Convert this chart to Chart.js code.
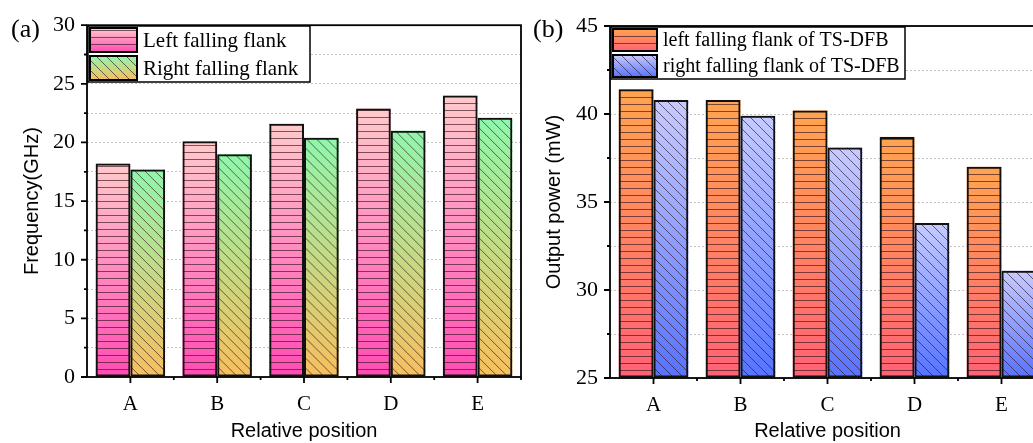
<!DOCTYPE html>
<html><head><meta charset="utf-8">
<script src="https://cdn.jsdelivr.net/npm/chart.js@4/dist/chart.umd.min.js"></script>
<style>
html,body{margin:0;padding:0;background:#fff;overflow:hidden}
body{width:1033px;height:443px;position:relative}
canvas{position:absolute;top:0}
#ca{left:0} #cb{left:520px}
</style></head><body>
<canvas id="ca" width="530" height="443"></canvas>
<canvas id="cb" width="540" height="443"></canvas>
<script>
const categories = ['A','B','C','D','E'];
const freqLeft  = [18.2, 20.1, 21.6, 22.9, 24.0];
const freqRight = [17.7, 19.0, 20.4, 21.0, 22.1];
const powerLeft  = [41.4, 40.8, 40.2, 38.7, 37.0];
const powerRight = [40.8, 39.9, 38.1, 33.8, 31.1];
const freqTicks  = [0, 5, 10, 15, 20, 25, 30];
const powerTicks = [25, 30, 35, 40, 45];

// fill looks (gradient top->bottom + hatch)
const pink   = {top:'#ffcacb', bottom:'#ff4cb4', hatch:'h'};
const green  = {top:'#8ef7ac', bottom:'#f7bf5e', hatch:'d'};
const orange = {top:'#ffa450', bottom:'#ff6274', hatch:'h'};
const blue   = {top:'#c6cbff', bottom:'#5673ff', hatch:'d'};

function paintSwatch(ctx,x,y,w,h,look,anchor){
  ctx.save();
  const g = ctx.createLinearGradient(0,y,0,y+h);
  g.addColorStop(0,look.top); g.addColorStop(1,look.bottom);
  ctx.fillStyle = g; ctx.fillRect(x,y,w,h);
  ctx.beginPath(); ctx.rect(x,y,w,h); ctx.clip();
  ctx.strokeStyle = 'rgba(55,20,30,0.65)'; ctx.lineWidth = 1;
  ctx.beginPath();
  if(look.hatch==='h'){
    for(let yy=anchor; yy>y-7; yy-=7){ ctx.moveTo(x,Math.round(yy)+0.5); ctx.lineTo(x+w,Math.round(yy)+0.5); }
  } else {
    for(let xx=x-h-10; xx<x+w+10; xx+=10){ ctx.moveTo(xx,y); ctx.lineTo(xx+h,y+h); }
  }
  ctx.stroke();
  ctx.restore();
}

const barFill = {
  id:'barFill',
  beforeDatasetsDraw(chart){
    const {ctx, chartArea:a} = chart;
    ctx.save(); ctx.beginPath(); ctx.rect(a.left,a.top,a.right-a.left,a.bottom-a.top); ctx.clip();
    chart.data.datasets.forEach((ds,i)=>{
      chart.getDatasetMeta(i).data.forEach(bar=>{
        const {x,y,base,width} = bar.getProps(['x','y','base','width'],true);
        paintSwatch(ctx, x-width/2, y, width, base-y, ds.look, a.bottom-1);
      });
    });
    ctx.restore();
  }
};

const frame = {
  id:'frame',
  afterDatasetsDraw(chart){
    const {ctx, chartArea:a, scales:{x,y}} = chart;
    ctx.save(); ctx.strokeStyle='#000'; ctx.lineWidth=1.8;
    ctx.strokeRect(a.left,a.top,a.right-a.left,a.bottom-a.top);
    ctx.beginPath();
    x.ticks.forEach((t,i)=>{
      const px = x.getPixelForTick(i);
      ctx.moveTo(px,a.bottom); ctx.lineTo(px,a.bottom+6);
      const bx = x.getPixelForValue(i+0.5);
      ctx.moveTo(bx,a.bottom); ctx.lineTo(bx,a.bottom+3);
    });
    y.ticks.forEach((t,i)=>{
      const py = y.getPixelForTick(i);
      const len = t.label==='' ? 3 : 6;
      ctx.moveTo(a.left,py); ctx.lineTo(a.left-len,py);
    });
    ctx.stroke(); ctx.restore();
  }
};

const boxLegend = {
  id:'boxLegend',
  afterDraw(chart,args,o){
    const {ctx} = chart; const L = o.box;
    ctx.save();
    ctx.fillStyle='#fff'; ctx.fillRect(L.x,L.y,L.w,L.h);
    ctx.strokeStyle='#000'; ctx.lineWidth=1.5; ctx.strokeRect(L.x,L.y,L.w,L.h);
    chart.data.datasets.forEach((ds,i)=>{
      const sy = L.y+2+i*L.row, sh = L.row-4;
      paintSwatch(ctx,L.x+2,sy,L.sw,sh,ds.look,sy+sh-1);
      ctx.lineWidth=2; ctx.strokeStyle='#000'; ctx.strokeRect(L.x+2,sy,L.sw,sh);
      ctx.fillStyle='#000'; ctx.font=L.font+'px "Liberation Serif"'; ctx.textBaseline='middle';
      ctx.fillText(ds.label, L.x+L.sw+8, sy+sh/2+1);
    });
    ctx.fillStyle='#000'; ctx.font='26px "Liberation Serif"'; ctx.textBaseline='alphabetic';
    ctx.fillText(o.panel, o.px, 37);
    ctx.restore();
  }
};

function makeChart(id, sets, ticks, yTitle, geo){
  return new Chart(document.getElementById(id), {
    type:'bar',
    data:{labels:categories, datasets:sets.map(s=>({label:s.label, data:s.data, look:s.look,
      base:ticks[0],
      backgroundColor:'rgba(0,0,0,0)', borderColor:'#111', borderWidth:2, borderSkipped:false,
      categoryPercentage:0.8, barPercentage:1.0}))},
    options:{
      responsive:false, animation:false, events:[],
      layout:{padding:{top:geo.top, right:geo.right, left:0, bottom:0}},
      plugins:{legend:{display:false}, tooltip:{enabled:false},
        boxLegend:{box:geo.box, panel:geo.panel, px:geo.px}},
      scales:{
        x:{ grid:{display:false, drawTicks:false}, border:{display:false},
            ticks:{font:{family:'Liberation Serif',size:21}, color:'#000', padding:15, maxRotation:0},
            title:{display:true, text:'Relative position', color:'#000',
                   font:{family:'Liberation Sans',size:20}, padding:{top:-2,bottom:0}},
            afterFit:s=>{ s.height = geo.xh; } },
        y:{ min:ticks[0], max:ticks[ticks.length-1],
            grid:{color:'#c4c4c4', lineWidth:1, drawTicks:false},
            border:{display:false, dash:[2,2]},
            ticks:{stepSize:2.5, autoSkip:false, color:'#000', padding:12,
                   font:{family:'Liberation Serif',size:22},
                   callback:v=>ticks.includes(v) ? String(v) : ''},
            title:{display:true, text:yTitle, color:'#000',
                   font:{family:'Liberation Sans',size:20}, padding:{top:geo.tp,bottom:0}},
            afterFit:s=>{ s.width = geo.yw; } }
      }
    },
    plugins:[barFill, frame, boxLegend]
  });
}

makeChart('ca', [
  {label:'Left falling flank', data:freqLeft, look:pink},
  {label:'Right falling flank', data:freqRight, look:green}
], freqTicks, 'Frequency(GHz)',
  {top:25, right:9, yw:87, xh:66, tp:20, panel:'(a)', px:11,
   box:{x:88, y:26, w:222, h:56, row:28, sw:47, font:21}});

makeChart('cb', [
  {label:'left falling flank of TS-DFB', data:powerLeft, look:orange},
  {label:'right falling flank of TS-DFB', data:powerRight, look:blue}
], powerTicks, 'Output power (mW)',
  {top:26, right:15, yw:90, xh:65, tp:22, panel:'(b)', px:13,
   box:{x:91, y:27, w:294, h:52, row:26, sw:44, font:20}});
</script>
</body></html>
